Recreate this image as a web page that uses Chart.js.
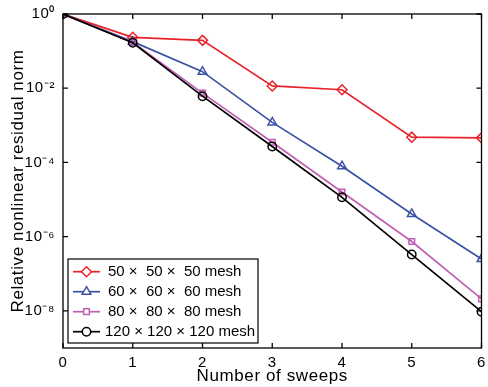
<!DOCTYPE html>
<html>
<head>
<meta charset="utf-8">
<script src="https://cdn.jsdelivr.net/npm/chart.js@4.4.1/dist/chart.umd.min.js"></script>
<style>
  html, body { margin: 0; padding: 0; background: #fff; }
  #wrap { width: 488px; height: 387px; position: relative; }
</style>
</head>
<body>
<div id="wrap"><canvas id="c" width="488" height="387"></canvas></div>
<script>
// ---- data ----
const sweeps = [0, 1, 2, 3, 4, 5, 6];
const mesh50  = [1, 0.235, 0.195, 0.0115, 0.0091, 4.8e-4, 4.6e-4];
const mesh60  = [1, 0.18, 0.028, 1.2e-3, 7.9e-5, 4.1e-6, 2.5e-7];
const mesh80  = [1, 0.172, 7.4e-3, 3.5e-4, 1.6e-5, 7.4e-7, 2.1e-8];
const mesh120 = [1, 0.168, 6.1e-3, 2.7e-4, 1.15e-5, 3.3e-7, 9.5e-9];
const seriesLabels = ['50 \u00d7  50 \u00d7  50 mesh', '60 \u00d7  60 \u00d7  60 mesh', '80 \u00d7  80 \u00d7  80 mesh', '120 \u00d7 120 \u00d7 120 mesh'];
const yTickValues = [1, 1e-2, 1e-4, 1e-6, 1e-8];
const yTickLabels = ['10\u2070', '10\u207b\u00b2', '10\u207b\u2074', '10\u207b\u2076', '10\u207b\u2078'];
const xTickValues = [0, 1, 2, 3, 4, 5, 6];
const xTitle = 'Number of sweeps';
const yTitle = 'Relative nonlinear residual norm';

const colors = ['#e8232b', '#3d52a3', '#c060b4', '#000000'];
const styles = ['rectRot', 'triangle', 'rect', 'circle'];
const radii = [5, 5, 4, 4.2];
const FONT = '"Liberation Sans", Arial, Helvetica, sans-serif';
const SPACING = '0.6px';

const allSeries = [mesh50, mesh60, mesh80, mesh120];
const datasets = allSeries.map((vals, i) => ({
  label: seriesLabels[i],
  data: sweeps.map((x, j) => ({ x: x, y: vals[j] })),
  borderColor: colors[i],
  backgroundColor: 'rgba(0,0,0,0)',
  pointBorderColor: colors[i],
  pointBackgroundColor: 'rgba(0,0,0,0)',
  pointStyle: styles[i],
  pointRadius: radii[i],
  pointBorderWidth: 1.5,
  borderWidth: 1.7,
  tension: 0,
  order: 4 - i
}));

const spacingPlugin = {
  id: 'spacing',
  beforeUpdate(chart) { chart.ctx.letterSpacing = SPACING; },
  beforeLayout(chart) { chart.ctx.letterSpacing = SPACING; },
  beforeDraw(chart) { chart.ctx.letterSpacing = SPACING; }
};

const framePlugin = {
  id: 'frame',
  afterDatasetsDraw(chart) {
    const { ctx, chartArea: a, scales } = chart;
    ctx.save();
    ctx.strokeStyle = '#000';
    ctx.lineWidth = 1.3;
    const tl = 5;
    ctx.beginPath();
    xTickValues.forEach(v => {
      const px = scales.x.getPixelForValue(v);
      ctx.moveTo(px, a.bottom); ctx.lineTo(px, a.bottom - tl);
      ctx.moveTo(px, a.top); ctx.lineTo(px, a.top + tl);
    });
    yTickValues.forEach(v => {
      const py = scales.y.getPixelForValue(v);
      ctx.moveTo(a.left, py); ctx.lineTo(a.left + tl, py);
      ctx.moveTo(a.right, py); ctx.lineTo(a.right - tl, py);
    });
    ctx.stroke();
    ctx.strokeRect(a.left, a.top, a.right - a.left, a.bottom - a.top);

    // legend (inside axes, lower-left)
    const lx = 68, ly = 259, lw = 190, lh = 84;
    ctx.fillStyle = '#fff';
    ctx.fillRect(lx, ly, lw, lh);
    ctx.lineWidth = 1.2;
    ctx.strokeRect(lx, ly, lw, lh);
    chart.data.datasets.forEach((ds, i) => {
      const cy = ly + 12.7 + i * 20;
      ctx.strokeStyle = ds.borderColor;
      ctx.lineWidth = 1.7;
      ctx.beginPath();
      ctx.moveTo(73, cy); ctx.lineTo(100, cy);
      ctx.stroke();
      ctx.lineWidth = 1.5;
      ctx.fillStyle = '#fff';
      Chart.helpers.drawPoint(ctx, { pointStyle: ds.pointStyle, radius: ds.pointRadius, borderWidth: 1.5, rotation: 0 }, 86.5, cy);
      ctx.fillStyle = '#000';
      ctx.font = '15px ' + FONT;
      ctx.letterSpacing = '0px';
      ctx.textBaseline = 'middle';
      ctx.textAlign = 'left';
      ctx.fillText(ds.label, i === 3 ? 105 : 108, cy + 0.5);
    });
    ctx.restore();
  }
};

new Chart(document.getElementById('c'), {
  type: 'line',
  data: { datasets },
  options: {
    responsive: false,
    animation: false,
    devicePixelRatio: 1,
    layout: { padding: { top: 14, right: 1, left: 0, bottom: 0 } },
    plugins: { legend: { display: false }, tooltip: { enabled: false } },
    scales: {
      x: {
        type: 'linear',
        min: 0, max: 6,
        grid: { display: false, drawTicks: false },
        border: { display: false },
        afterBuildTicks: s => { s.ticks = xTickValues.map(v => ({ value: v })); },
        afterFit: s => { s.height = 39; s.paddingLeft = 0; s.paddingRight = 0; },
        ticks: { color: '#000', font: { family: FONT, size: 15 }, padding: 6, maxRotation: 0, autoSkip: false,
                 callback: v => String(v) },
        title: { display: true, text: xTitle, color: '#000', font: { family: FONT, size: 17 }, padding: { top: 0, bottom: 0 } }
      },
      y: {
        type: 'logarithmic',
        min: 1e-9, max: 1,
        grid: { display: false, drawTicks: false },
        border: { display: false },
        afterBuildTicks: s => { s.ticks = yTickValues.map(v => ({ value: v })); },
        afterFit: s => { s.width = 63; s.paddingTop = 0; s.paddingBottom = 0; },
        ticks: { color: '#000', font: { family: FONT, size: 15 }, padding: 8, autoSkip: false,
                 callback: (v) => { const k = yTickValues.indexOf(v); return k >= 0 ? yTickLabels[k] : ''; } },
        title: { display: true, text: yTitle, color: '#000', font: { family: FONT, size: 17 }, padding: { top: 8, bottom: 0 } }
      }
    }
  },
  plugins: [spacingPlugin, framePlugin]
});
</script>
</body>
</html>
